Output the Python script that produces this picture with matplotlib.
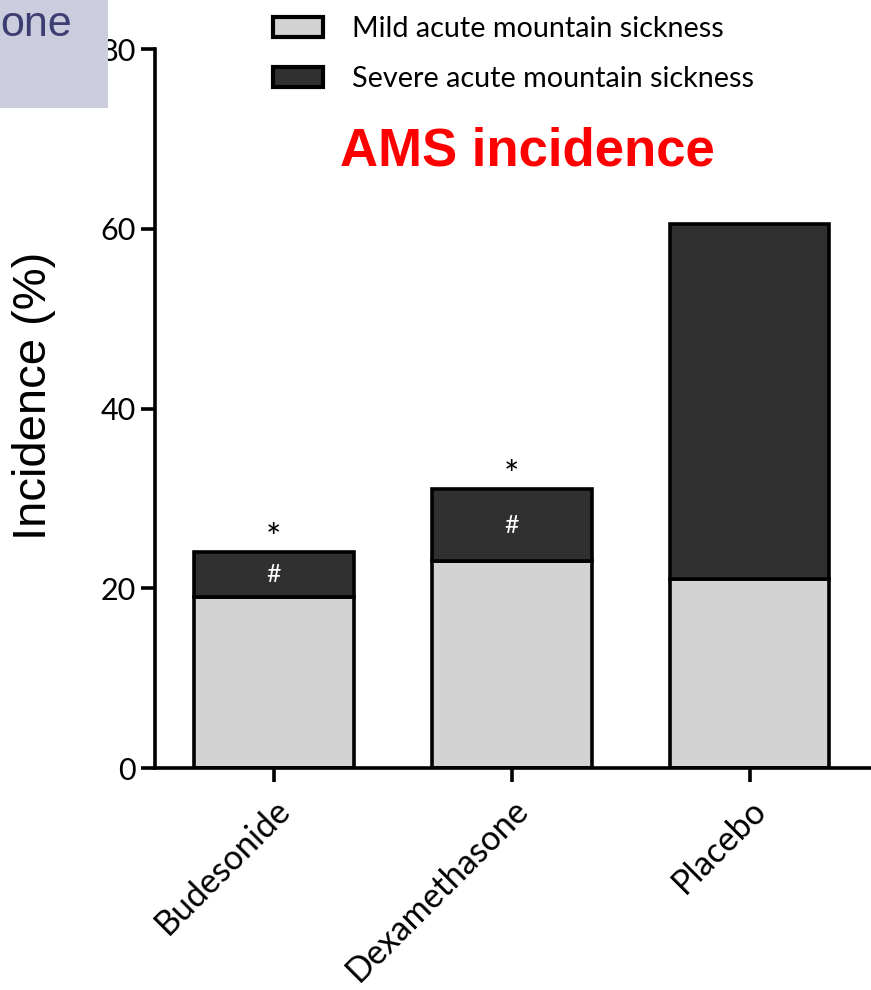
import matplotlib.pyplot as plt
from matplotlib.patches import Patch, Rectangle

# AMS incidence by treatment group (%)
groups = ["Budesonide", "Dexamethasone", "Placebo"]
mild = [19.0, 23.0, 21.0]
severe = [5.0, 8.0, 39.5]
above_marks = ["*", "*", ""]
inside_marks = ["#", "#", ""]

light = "#d3d3d3"
dark = "#303030"
label_font = "Lato"

fig = plt.figure(figsize=(8.71, 9.9), dpi=100)
ax = fig.add_axes([0.178, 0.2242, 0.822, 0.7263])

x = range(len(groups))
ax.bar(x, mild, width=0.67, color=light, edgecolor="black", linewidth=2.6)
ax.bar(x, severe, bottom=mild, width=0.67, color=dark, edgecolor="black", linewidth=2.6)

for i in x:
    top = mild[i] + severe[i]
    if above_marks[i]:
        ax.text(i, top + 1.4, above_marks[i], ha="center", va="center",
                fontsize=26, family=label_font)
    if inside_marks[i]:
        ax.text(i, mild[i] + severe[i] / 2, inside_marks[i], ha="center", va="center",
                fontsize=18, color="white", family=label_font)

ax.set_xlim(-0.5, 2.51)
ax.set_ylim(0, 80)
ax.set_yticks([0, 20, 40, 60, 80])
ax.set_xticks(list(x))
ax.set_xticklabels(groups, rotation=45, ha="right", rotation_mode="anchor",
                   fontsize=24.5, family=label_font)
for lab in ax.get_yticklabels():
    lab.set_family(label_font)
    lab.set_fontsize(22)

ax.spines["top"].set_visible(False)
ax.spines["right"].set_visible(False)
ax.spines["left"].set_linewidth(2.6)
ax.spines["bottom"].set_linewidth(2.6)
ax.tick_params(axis="both", length=10, width=2.6, direction="out", pad=4)
ax.tick_params(axis="x", pad=8)
ax.set_ylabel("Incidence (%)", fontsize=34, family="Liberation Sans")
ax.yaxis.set_label_coords(-0.139, 0.517)

handles = [Patch(facecolor=light, edgecolor="black", linewidth=3),
           Patch(facecolor=dark, edgecolor="black", linewidth=3)]
leg = fig.legend(handles, ["Mild acute mountain sickness", "Severe acute mountain sickness"],
                 loc="upper left", bbox_to_anchor=(0.284, 1.010), frameon=False,
                 prop={"family": label_font, "size": 20.7}, handlelength=1.74,
                 handleheight=0.7, labelspacing=0.85, handletextpad=1.0)

fig.text(0.605, 0.847, "AMS incidence", color="red", fontsize=38, fontweight="bold",
         family="Liberation Sans", ha="center", va="center")

# slide caption box in the corner
fig.patches.append(Rectangle((0, 0.891), 0.124, 0.109, transform=fig.transFigure,
                             facecolor="#ccccdf", edgecolor="none", zorder=5))
fig.text(0.0, 0.975, "one", color="#3d3d72", fontsize=31, family="Liberation Sans",
         ha="left", va="center", zorder=6)

fig.savefig("out.png", dpi=100)
